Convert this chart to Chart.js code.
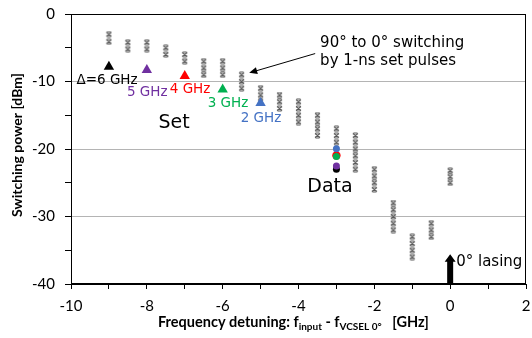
<!DOCTYPE html>
<html>
<head>
<meta charset="utf-8">
<script src="https://cdn.jsdelivr.net/npm/chart.js@4.4.1/dist/chart.umd.min.js"></script>
<style>
  html, body { margin: 0; padding: 0; background: #fff; }
  #wrap { width: 532px; height: 338px; }
</style>
</head>
<body>
<div id="wrap"><canvas id="chart" width="532" height="338"></canvas></div>
<script>
// ── data ──
const starX = [-9, -8.5, -8, -7.5, -7, -6.5, -6, -5.5, -5, -4.5, -4, -3.5, -3, -2.5, -2, -1.5, -1, -0.5, 0];
const starY = [
  [-3, -4.1],
  [-4.2, -5.2],
  [-4.2, -5.2],
  [-5, -6],
  [-6, -7],
  [-7, -8, -9],
  [-7, -8, -9],
  [-9, -10, -11],
  [-11, -12, -13],
  [-12, -13, -14],
  [-13, -14, -15, -16],
  [-15, -16, -17, -18],
  [-17, -18, -19],
  [-18, -19, -20, -21, -22, -23],
  [-23, -24, -25, -26],
  [-28, -29, -30, -31, -32],
  [-33, -34, -35, -36],
  [-31, -32, -33],
  [-23.2, -24.1, -25],
];

const setLabels = ['Δ=6 GHz', '5 GHz', '4 GHz', '3 GHz', '2 GHz'];
const setColors = ['#000000', '#7030a0', '#ff0000', '#00b050', '#4472c4'];
const setX = [-9, -8, -7, -6, -5];
const setY = [-7.8, -8.3, -9.2, -11.2, -13.2];

// data dots, drawn bottom to top: black, purple, red, green, blue
const dataColors = ['#000000', '#7030a0', '#ff0000', '#00b050', '#4472c4'];
const dataX = [-3, -3, -3, -3, -3];
const dataY = [-23, -22.5, -20.95, -21.1, -19.95];

const xTicks = [-10, -8, -6, -4, -2, 0, 2];
const yTicks = [0, -10, -20, -30, -40];

// ── star marker (Excel style) ──
function makeStar() {
  const c = document.createElement('canvas');
  c.width = 7; c.height = 7;
  const g = c.getContext('2d');
  g.strokeStyle = '#5a5a5a';
  g.lineWidth = 1.1;
  g.beginPath();
  g.moveTo(1.5, 1); g.lineTo(5.5, 1);
  g.moveTo(1.5, 6); g.lineTo(5.5, 6);
  g.moveTo(1, 1.5); g.lineTo(6, 5.5);
  g.moveTo(6, 1.5); g.lineTo(1, 5.5);
  g.stroke();
  return c;
}
const starImg = makeStar();

const starPoints = [];
starX.forEach((x, i) => starY[i].forEach((y) => starPoints.push({ x, y })));

// ── annotations (data coords) ──
const annoTexts = [
  { t: setLabels[0], x: -9.05, y: -9.9, c: setColors[0], f: '13.5px "DejaVu Sans"' },
  { t: setLabels[1], x: -7.99, y: -11.6, c: setColors[1], f: '13.5px "DejaVu Sans"' },
  { t: setLabels[2], x: -6.86, y: -11.2, c: setColors[2], f: '13.5px "DejaVu Sans"' },
  { t: setLabels[3], x: -5.86, y: -13.3, c: setColors[3], f: '13.5px "DejaVu Sans"' },
  { t: setLabels[4], x: -4.99, y: -15.5, c: setColors[4], f: '13.5px "DejaVu Sans"' },
  { t: 'Set', x: -7.28, y: -16.1, c: '#000', f: '19px "DejaVu Sans"' },
  { t: 'Data', x: -3.17, y: -25.7, c: '#000', f: '19px "DejaVu Sans"' },
];

const annoPlugin = {
  id: 'anno',
  afterDatasetsDraw(chart) {
    const { ctx, chartArea: a, scales: { x, y } } = chart;
    ctx.save();

    // frame
    ctx.strokeStyle = '#000';
    ctx.lineWidth = 1;
    ctx.strokeRect(a.left + 0.5, a.top + 0.5, a.right - a.left - 1, a.bottom - a.top - 1);

    ctx.textBaseline = 'middle';
    ctx.textAlign = 'center';
    annoTexts.forEach((d) => {
      ctx.font = d.f;
      ctx.fillStyle = d.c;
      ctx.fillText(d.t, x.getPixelForValue(d.x), y.getPixelForValue(d.y));
    });

    // switching note + thin arrow
    ctx.textAlign = 'left';
    ctx.fillStyle = '#000';
    ctx.font = '15px "DejaVu Sans"';
    ctx.fillText('90° to 0° switching', x.getPixelForValue(-3.43), y.getPixelForValue(-4.27));
    ctx.fillText('by 1-ns set pulses', x.getPixelForValue(-3.43), y.getPixelForValue(-7.0));

    const ax0 = x.getPixelForValue(-3.56), ay0 = y.getPixelForValue(-5.86);
    const ax1 = x.getPixelForValue(-5.3), ay1 = y.getPixelForValue(-8.72);
    const ang = Math.atan2(ay1 - ay0, ax1 - ax0);
    ctx.beginPath();
    ctx.moveTo(ax0, ay0);
    ctx.lineTo(ax1 - 4 * Math.cos(ang), ay1 - 4 * Math.sin(ang));
    ctx.stroke();
    ctx.beginPath();
    ctx.moveTo(ax1, ay1);
    ctx.lineTo(ax1 - 8 * Math.cos(ang) + 3.5 * Math.sin(ang), ay1 - 8 * Math.sin(ang) - 3.5 * Math.cos(ang));
    ctx.lineTo(ax1 - 8 * Math.cos(ang) - 3.5 * Math.sin(ang), ay1 - 8 * Math.sin(ang) + 3.5 * Math.cos(ang));
    ctx.closePath();
    ctx.fill();

    // 0° lasing block arrow
    const lx = x.getPixelForValue(0);
    const tip = y.getPixelForValue(-35.6);
    const base = y.getPixelForValue(-36.7);
    ctx.beginPath();
    ctx.moveTo(lx, tip);
    ctx.lineTo(lx + 5.5, base);
    ctx.lineTo(lx + 3, base);
    ctx.lineTo(lx + 3, a.bottom);
    ctx.lineTo(lx - 3, a.bottom);
    ctx.lineTo(lx - 3, base);
    ctx.lineTo(lx - 5.5, base);
    ctx.closePath();
    ctx.fill();
    ctx.fillText('0° lasing', lx + 6, y.getPixelForValue(-36.8));

    // axis titles
    ctx.save();
    ctx.translate(22, (a.top + a.bottom) / 2 - 4);
    ctx.rotate(-Math.PI / 2);
    ctx.textAlign = 'center';
    ctx.textBaseline = 'alphabetic';
    ctx.font = 'bold 14px Lato';
    ctx.fillText('Switching power [dBm]', 0, 0);
    ctx.restore();

    const parts = [
      ['Frequency detuning: f', 'bold 14.5px Lato', 0],
      ['input', 'bold 10px Lato', 3],
      [' - f', 'bold 14.5px Lato', 0],
      ['VCSEL 0°', 'bold 10px Lato', 3],
      ['   [GHz]', 'bold 14.5px Lato', 0],
    ];
    ctx.textAlign = 'left';
    ctx.textBaseline = 'alphabetic';
    let px = 158;
    parts.forEach(([t, f, dy]) => {
      ctx.font = f;
      ctx.fillText(t, px, 327 + dy);
      px += ctx.measureText(t).width;
    });

    ctx.restore();
  },
};

new Chart(document.getElementById('chart'), {
  type: 'scatter',
  data: {
    datasets: [
      {
        label: 'data',
        data: dataX.map((x, i) => ({ x, y: dataY[i] })),
        pointStyle: 'circle',
        pointRadius: [3.5, 3.5, 4.2, 3.5, 3.5],
        pointBackgroundColor: dataColors,
        pointBorderWidth: 0,
        order: 0,
      },
      {
        label: 'set',
        data: setX.map((x, i) => ({ x, y: setY[i] })),
        pointStyle: 'triangle',
        pointRadius: 6,
        pointBackgroundColor: setColors,
        pointBorderWidth: 0,
        order: 1,
      },
      {
        label: 'switching',
        data: starPoints,
        pointStyle: starImg,
        order: 2,
      },
    ],
  },
  options: {
    responsive: false,
    animation: false,
    events: [],
    layout: { padding: { left: 0, right: 6, top: 14, bottom: 0 } },
    plugins: { legend: { display: false }, tooltip: { enabled: false } },
    scales: {
      x: {
        type: 'linear',
        min: -10, max: 2,
        afterFit: (s) => { s.height = 54; s.paddingLeft = 0; s.paddingRight = 0; },
        ticks: {
          stepSize: 1, autoSkip: false, maxRotation: 0, padding: 8,
          color: '#000', font: { family: 'Lato', size: 15 },
          callback: (v) => (xTicks.includes(v) ? String(v) : ''),
        },
        grid: { color: 'rgba(0,0,0,0)', tickColor: '#000', tickLength: 5 },
        border: { color: '#000', width: 1 },
      },
      y: {
        type: 'linear',
        min: -40, max: 0,
        afterFit: (s) => { s.width = 71; s.paddingTop = 0; s.paddingBottom = 0; },
        ticks: {
          stepSize: 5, autoSkip: false, padding: 10,
          color: '#000', font: { family: 'Lato', size: 15 },
          callback: (v) => (yTicks.includes(v) ? String(v) : ''),
        },
        grid: {
          color: (c) => (c.tick && [-10, -20, -30].includes(c.tick.value) ? '#b4b4b4' : 'rgba(0,0,0,0)'),
          tickColor: '#000', tickLength: 6,
        },
        border: { color: '#000', width: 1 },
      },
    },
  },
  plugins: [annoPlugin],
});
</script>
</body>
</html>
